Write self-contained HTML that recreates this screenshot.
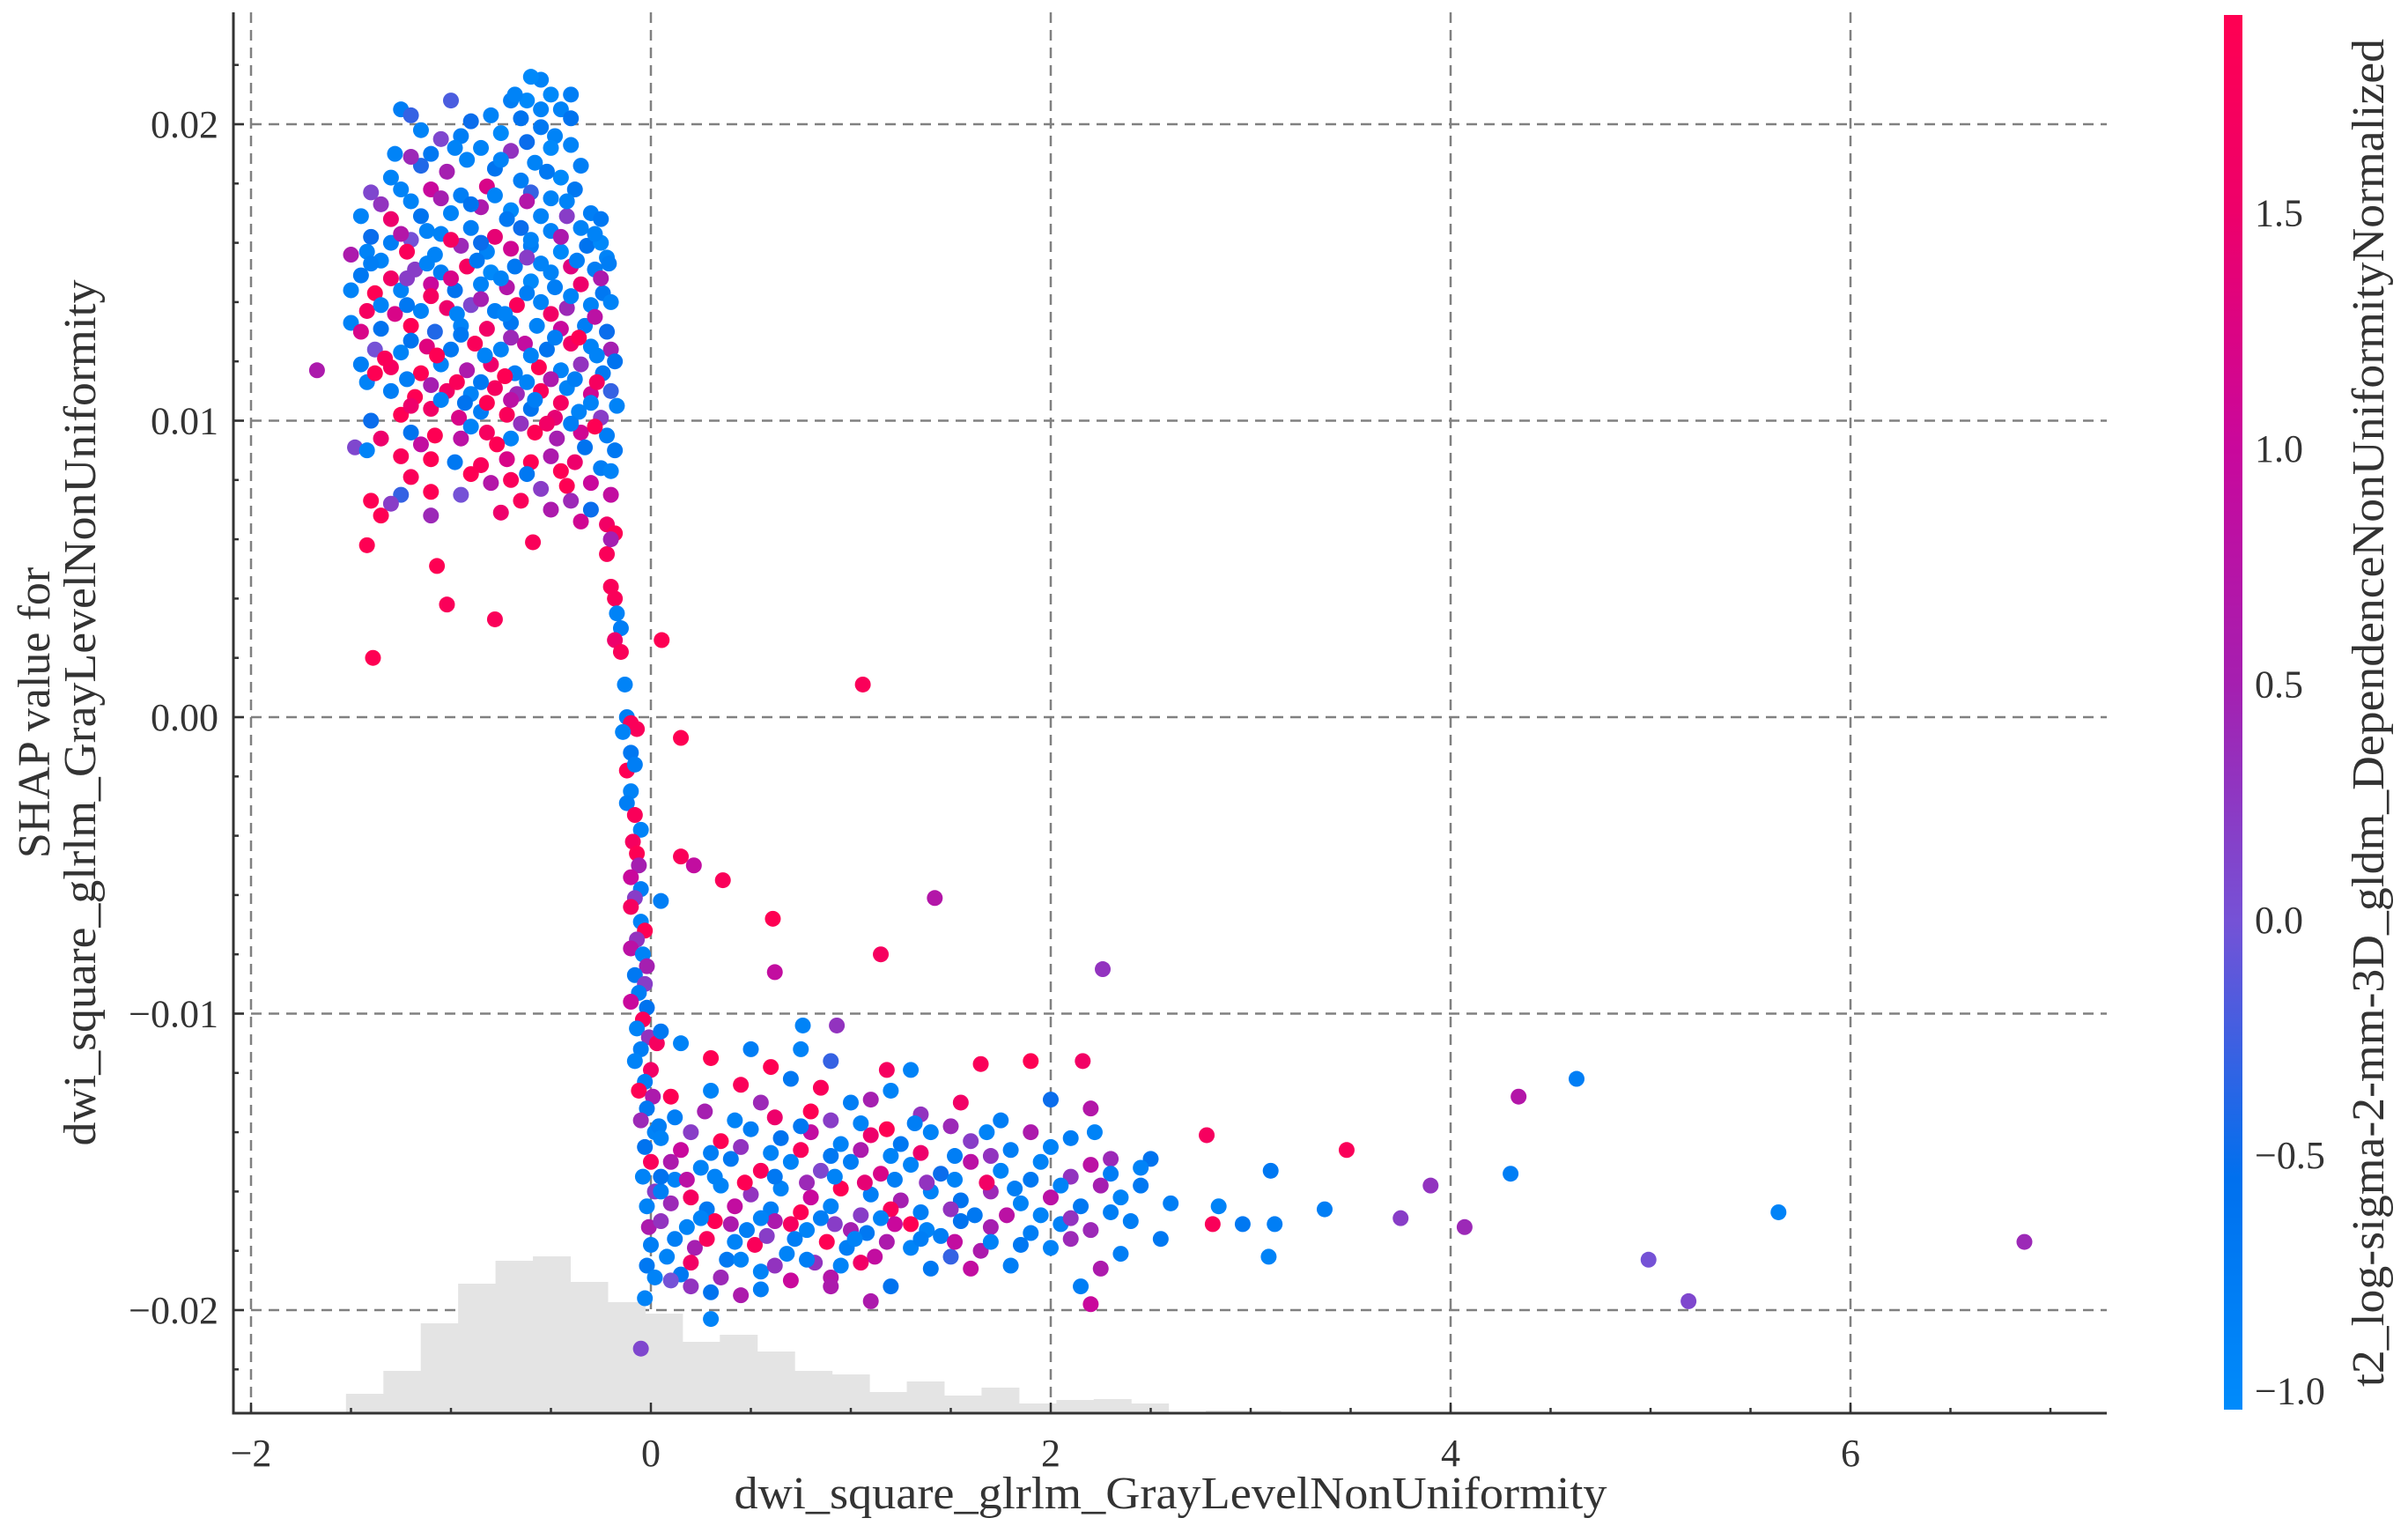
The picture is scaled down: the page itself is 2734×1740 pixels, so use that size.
<!DOCTYPE html>
<html><head><meta charset="utf-8"><style>
html,body{margin:0;padding:0;background:#fff;}
svg{display:block;}
text{font-family:"Liberation Serif",serif;fill:#333;}
</style></head><body>
<svg id="chart" xmlns="http://www.w3.org/2000/svg" width="2734" height="1740" viewBox="0 0 2734 1740">
<defs>
<linearGradient id="cbgrad" x1="0" y1="1" x2="0" y2="0">
<stop offset="0" stop-color="#008bfb"/>
<stop offset="0.166" stop-color="#0070ee"/>
<stop offset="0.35" stop-color="#7552d6"/>
<stop offset="0.52" stop-color="#a51fb0"/>
<stop offset="0.69" stop-color="#c9089c"/>
<stop offset="0.86" stop-color="#ee006a"/>
<stop offset="1" stop-color="#ff0052"/>
</linearGradient>
</defs>
<g id="grid"></g>
<g id="hist"></g>
<g id="points"></g>
<g id="axes"></g>
<text x="44" y="809" font-size="52" text-anchor="middle" transform="rotate(-90 44 809)" dominant-baseline="middle">SHAP value for</text>
<text x="96" y="809" font-size="52" text-anchor="middle" transform="rotate(-90 96 809)" dominant-baseline="middle" textLength="983" lengthAdjust="spacingAndGlyphs">dwi_square_glrlm_GrayLevelNonUniformity</text>
<text x="1329" y="1712" font-size="52" text-anchor="middle" textLength="991" lengthAdjust="spacingAndGlyphs">dwi_square_glrlm_GrayLevelNonUniformity</text>
<rect x="2525" y="17" width="21" height="1583" fill="url(#cbgrad)"/>
<g id="cbticks"></g>
<text x="2694" y="809" font-size="52" text-anchor="middle" transform="rotate(-90 2694 809)" dominant-baseline="middle" textLength="1530" lengthAdjust="spacingAndGlyphs">t2_log-sigma-2-mm-3D_gldm_DependenceNonUniformityNormalized</text>
</svg>
<script>
const xTicks=[-2,0,2,4,6];
const xTickLabels=["−2","0","2","4","6"];
const yTicks=[0.02,0.01,0,-0.01,-0.02];
const yTickLabels=["0.02","0.01","0.00","−0.01","−0.02"];
const cbTicks=[1.5,1.0,0.5,0.0,-0.5,-1.0];
const cbTickLabels=["1.5","1.0","0.5","0.0","−0.5","−1.0"];
const histStart=-1.525, histWidth=0.187;
const histCounts=[22,48,102,147,173,178,149,126,113,81,89,70,48,44,24,36,20,29,11,15,16,11,1,3,3,0,1,0,1,0,0,1];
// points: x, shap*1000, color value
const pointX=[];const pointY=[];const pointC=[];
const pointStr="-0.55,21.5,-0.9;-0.6,21.6,-1;-0.7,20.8,-0.8;-0.5,21,-1;-0.45,20.5,-0.9;-0.65,20.2,-0.6;-0.8,20.3,-0.9;-1,20.8,-0.2;-1.25,20.5,-0.8;-1.2,20.3,-0.3;-1.15,19.8,-0.9;-0.9,20.1,-0.5;-0.95,19.6,-0.8;-0.75,19.7,-1;-0.55,19.9,-0.7;-0.4,20.2,-0.6;-0.48,19.6,-0.9;-0.62,19.4,-0.5;-0.85,19.2,-0.9;-1.05,19.5,0.1;-1.1,19,-0.7;-0.7,19.1,0.3;-0.5,19.2,-1;-0.4,19.3,-0.9;-0.35,18.6,-0.8;-0.58,18.7,-0.9;-0.78,18.5,-0.6;-0.92,18.8,-0.9;-1.02,18.4,0.5;-1.15,18.6,-0.4;-1.3,18.2,-0.9;-0.45,18.2,-1;-0.65,18.1,-0.8;-0.82,17.9,1.2;-0.6,17.7,-0.3;-0.5,17.5,-0.9;-0.38,17.8,-0.7;-0.95,17.6,-0.8;-1.1,17.8,1.0;-1.2,17.4,-0.9;-1.35,17.3,0.3;-1.45,16.9,-0.9;-1.3,16.8,1.5;-1.15,16.9,-0.6;-1.0,17,-0.9;-0.85,17.2,0.6;-0.7,17.1,-1;-0.55,16.9,-0.9;-0.42,16.9,0.2;-0.3,17.0,-0.8;-0.25,16.8,-0.7;-0.35,16.5,-0.9;-0.5,16.4,-0.9;-0.65,16.5,-0.5;-0.78,16.2,1.4;-0.9,16.5,-0.8;-1.05,16.3,-0.9;-1.2,16.1,0.0;-1.3,16.0,-0.8;-1.4,16.2,-0.5;-1.5,15.6,0.6;-1.35,15.4,-0.9;-1.22,15.7,1.8;-1.08,15.6,-0.9;-0.95,15.9,0.4;-0.82,15.7,-0.9;-0.7,15.8,1.1;-0.6,15.9,-0.8;-0.45,15.7,-1;-0.32,15.9,-0.6;-0.22,15.5,-0.9;-0.28,15.1,-0.8;-0.4,15.2,1.3;-0.55,15.3,-0.9;-0.68,15.2,-0.7;-0.8,15.0,-1;-0.92,15.2,1.7;-1.05,15.0,-0.8;-1.18,15.1,0.2;-1.3,14.8,1.6;-1.45,14.9,-0.7;-1.38,14.3,1.9;-1.25,14.4,-0.9;-1.1,14.6,1.0;-0.98,14.4,-0.6;-0.85,14.6,-0.9;-0.72,14.5,0.7;-0.6,14.7,-1;-0.48,14.5,-0.8;-0.35,14.6,1.5;-0.24,14.3,-0.7;-0.3,13.9,-0.9;-0.42,13.8,0.4;-0.55,14.0,-0.9;-0.67,13.9,1.8;-0.78,13.7,-0.8;-0.9,13.9,0.1;-1.02,13.8,1.5;-1.15,13.7,-0.9;-1.28,13.6,1.2;-1.42,13.7,1.7;-1.5,13.3,-0.9;-1.35,13.1,-0.6;-1.2,13.2,1.9;-1.08,13.0,-0.4;-0.95,13.2,-0.9;-0.82,13.1,1.6;-0.7,13.3,-0.7;-0.57,13.2,-0.9;-0.45,13.1,1.0;-0.33,13.2,-0.8;-0.22,13.0,-0.5;-0.2,12.4,0.5;-0.3,12.5,-0.9;-0.4,12.6,1.6;-0.52,12.4,-0.6;-0.63,12.6,0.9;-0.75,12.4,-0.9;-0.88,12.6,1.8;-1.0,12.4,-0.7;-1.12,12.5,1.3;-1.25,12.3,-0.9;-1.38,12.4,0.0;-1.45,11.9,-0.8;-1.3,11.8,1.7;-1.15,11.6,1.9;-1.05,11.9,-0.9;-0.92,11.7,0.6;-0.8,11.9,1.5;-0.68,11.6,-0.8;-0.56,11.8,1.9;-0.45,11.7,-0.9;-0.35,11.9,0.3;-0.24,11.6,-0.7;-0.2,11.0,-0.3;-0.3,10.9,1.1;-0.42,11.1,-0.9;-0.55,11.0,1.8;-0.67,10.9,0.4;-0.78,11.1,1.7;-0.9,10.9,-0.9;-1.02,11.0,1.6;-1.18,10.8,1.9;-1.3,11.0,-0.8;-1.42,11.3,-0.9;-1.4,10.0,-0.5;-1.25,10.2,1.9;-1.1,10.4,1.6;-0.96,10.1,1.2;-0.85,10.3,-0.8;-0.72,10.2,1.8;-0.6,10.4,-0.6;-0.48,10.1,1.4;-0.36,10.3,-0.9;-0.25,10.1,0.2;-0.22,9.5,-0.8;-0.35,9.6,1.1;-0.47,9.4,0.5;-0.58,9.6,1.9;-0.7,9.4,-0.9;-0.82,9.6,1.7;-0.95,9.4,0.8;-1.08,9.5,1.9;-1.2,9.6,-0.6;-1.35,9.4,1.5;-1.48,9.1,0.1;-1.42,9.0,-0.9;-1.25,8.8,1.8;-1.1,8.7,1.9;-0.98,8.6,-0.7;-0.85,8.5,1.8;-0.72,8.7,1.2;-0.6,8.6,1.9;-0.5,8.8,0.6;-0.38,8.6,1.5;-0.25,8.4,-0.8;-0.2,8.3,-0.9;-0.3,7.9,1.0;-0.42,7.8,1.9;-0.55,7.7,0.2;-0.7,8.0,1.8;-0.8,7.9,0.7;-0.95,7.5,0.0;-1.1,7.6,1.9;-1.25,7.5,-0.3;-1.4,7.3,1.9;-1.3,7.2,0.2;-1.35,6.8,1.9;-1.1,6.8,0.4;-0.75,6.9,1.5;-0.5,7.0,0.6;-0.35,6.6,1.1;-0.22,6.5,1.6;-0.3,7.0,-0.5;-0.2,7.5,0.9;-0.18,9.0,-0.7;-0.17,10.5,-0.9;-0.18,12.0,-0.6;-0.2,14.0,-0.9;-0.21,15.3,-0.8;-0.25,16.0,-1;-0.55,20.5,-0.9;-0.62,20.8,-1;-0.68,21.0,-0.9;-0.4,21.0,-0.8;"+
"-1.28,19.0,-0.9;-1.2,18.9,0.4;-0.98,19.2,-0.9;-0.75,18.8,-0.9;-0.52,18.4,-0.7;-0.42,17.4,-0.9;-0.62,17.4,0.7;-0.78,17.6,-0.9;-0.9,17.3,-0.6;-1.05,17.5,0.5;-1.25,17.8,-0.9;-1.4,17.7,0.1;-0.28,16.3,-0.9;-0.45,16.2,0.6;-0.6,16.1,-0.9;-0.72,16.8,-0.7;-0.85,16.0,-0.5;-1.0,16.1,1.7;-1.12,16.4,-0.9;-1.25,16.3,0.7;-1.42,15.7,-0.9;-0.25,14.8,0.6;-0.37,15.4,-0.8;-0.5,15.0,-0.9;-0.62,15.5,0.2;-0.75,14.8,-0.9;-0.87,15.4,-0.7;-1.0,14.8,1.2;-1.12,15.3,-0.9;-1.22,14.8,0.2;-1.4,15.3,-0.8;-1.5,14.4,-0.9;-0.28,13.5,0.8;-0.4,14.2,-0.9;-0.5,13.6,1.6;-0.62,14.3,-0.8;-0.73,13.6,-0.9;-0.85,14.1,0.5;-0.97,13.6,-0.9;-1.1,14.2,1.7;-1.22,13.9,-0.7;-1.35,13.9,-0.9;-1.45,13.0,1.2;-0.27,12.2,-0.9;-0.36,12.8,1.9;-0.48,12.8,-0.8;-0.6,12.2,-0.9;-0.7,12.8,0.4;-0.83,12.2,-0.9;-0.95,12.9,-0.7;-1.07,12.2,1.9;-1.2,12.7,-0.6;-1.33,12.1,1.8;-0.27,11.3,1.7;-0.38,11.4,-0.8;-0.5,11.4,0.6;-0.62,11.3,-0.9;-0.73,11.5,1.9;-0.85,11.3,-0.7;-0.97,11.3,1.8;-1.1,11.2,0.5;-1.22,11.4,-0.8;-1.38,11.6,1.9;-0.3,10.6,-0.9;-0.45,10.6,1.7;-0.58,10.7,-0.8;-0.7,10.7,0.8;-0.82,10.6,1.9;-0.93,10.6,-0.6;-1.05,10.7,-0.9;-1.2,10.5,1.5;-0.28,9.8,1.9;-0.4,9.9,-0.8;-0.52,9.9,1.6;-0.65,9.9,0.3;-0.77,9.2,1.9;-0.9,9.8,-0.9;-1.15,9.2,0.9;-0.33,9.1,-0.6;-0.45,8.3,1.9;-0.62,8.2,-0.7;-0.9,8.2,1.9;-1.2,8.1,1.8;-0.65,7.3,1.8;-0.4,7.3,0.4;"+
"-1.67,11.7,0.6;-1.39,2.0,1.9;-1.42,5.8,1.9;-1.07,5.1,1.9;-1.02,3.8,1.8;-0.78,3.3,1.8;-0.59,5.9,1.8;0.054,2.6,1.9;1.06,1.1,1.8;0.15,-0.7,1.9;-0.07,-0.4,1.8;0.15,-4.7,1.8;0.215,-5.0,0.9;0.36,-5.5,1.8;0.61,-6.8,1.9;1.42,-6.1,0.7;0.62,-8.6,0.9;1.15,-8.0,1.7;2.26,-8.5,0.3;4.63,-12.2,-0.8;4.34,-12.8,0.7;6.87,-17.7,0.4;5.64,-16.7,-0.9;4.99,-18.3,0.0;5.19,-19.7,0.1;4.3,-15.4,-0.8;4.07,-17.2,0.4;3.9,-15.8,0.3;3.75,-16.9,0.2;3.48,-14.6,1.8;3.37,-16.6,-0.8;3.12,-17.1,-0.8;3.1,-15.3,-0.7;3.09,-18.2,-0.9;2.96,-17.1,-0.7;2.84,-16.5,-0.9;2.81,-17.1,1.8;2.78,-14.1,1.7;-0.05,-21.3,0.1;0.3,-20.3,-0.9;1.9,-11.6,1.9;2.16,-11.6,1.6;2.22,-14.0,-0.9;1.65,-11.7,1.8;1.18,-11.9,1.7;0.93,-10.4,0.3;0.76,-10.4,-0.9;"+
"-0.22,5.5,1.8;-0.18,6.2,1.9;-0.2,6.0,0.5;-0.2,4.4,1.8;-0.18,4.0,1.8;-0.17,3.5,-0.9;-0.15,3.0,-0.8;-0.18,2.6,1.5;-0.15,2.2,1.8;-0.13,1.1,-0.9;-0.12,0.0,-0.8;-0.1,-0.2,1.8;-0.14,-0.5,-0.9;-0.1,-1.2,-0.7;-0.12,-1.8,1.9;-0.08,-1.6,-0.8;-0.1,-2.5,-0.9;-0.12,-2.9,-0.8;-0.08,-3.3,1.8;-0.05,-3.8,-0.9;-0.09,-4.2,1.7;-0.07,-4.6,1.9;-0.06,-5.0,0.5;-0.1,-5.4,1.0;-0.05,-5.8,-0.8;-0.08,-6.1,0.2;-0.1,-6.4,1.7;-0.05,-6.9,-0.9;-0.03,-7.2,1.9;-0.07,-7.5,0.3;-0.1,-7.8,0.8;-0.04,-8.0,-0.9;-0.02,-8.4,0.5;-0.08,-8.7,-0.7;-0.03,-9.0,0.2;-0.06,-9.3,-0.8;-0.1,-9.6,1.0;-0.02,-9.8,-0.6;-0.04,-10.2,1.8;-0.07,-10.5,-0.9;-0.01,-10.8,0.3;-0.05,-11.2,-0.8;-0.08,-11.6,-0.9;0.0,-11.9,1.6;-0.03,-12.3,-0.8;-0.06,-12.6,1.9;0.01,-12.8,0.6;-0.02,-13.2,-0.7;-0.05,-13.6,0.4;0.02,-14.0,-0.9;-0.03,-14.5,-0.6;0.0,-15.0,1.8;-0.04,-15.5,-0.9;0.02,-16.0,0.2;-0.02,-16.5,-0.9;-0.01,-17.2,0.6;0.0,-17.8,-0.8;-0.02,-18.5,-0.7;-0.03,-19.6,-0.9;0.05,-6.2,-0.8;0.03,-11.0,1.7;0.04,-13.8,-0.8;"+
"0.1,-12.8,1.9;0.3,-12.6,-0.9;0.45,-12.4,1.8;0.55,-13.0,0.4;0.7,-12.2,-0.7;0.85,-12.5,1.8;1.0,-13.0,-0.8;1.2,-12.6,-0.9;1.35,-13.4,0.3;1.55,-13.0,1.6;1.75,-13.6,-0.8;2.0,-12.9,-0.5;2.2,-13.2,0.7;0.15,-11.0,-0.9;0.5,-11.2,-0.8;0.6,-11.8,1.9;0.05,-10.6,-0.7;0.3,-11.5,1.9;0.75,-11.2,-0.9;0.9,-11.6,-0.3;1.3,-11.9,-0.9;1.1,-12.9,0.5;0.8,-13.3,1.9;"+
"0.05,-14.2,-0.9;0.2,-14.0,0.2;0.35,-14.3,1.9;0.5,-13.9,-0.8;0.65,-14.2,-0.6;0.8,-14.0,0.9;0.95,-14.4,-0.9;1.1,-14.1,1.5;1.25,-14.4,-0.7;1.4,-14.0,-0.9;1.6,-14.3,0.2;1.8,-14.6,-0.8;2.0,-14.5,-0.9;2.3,-14.9,0.4;2.5,-14.9,-0.6;2.45,-15.2,-0.9;"+
"0.1,-15.0,0.6;0.25,-15.2,-0.9;0.4,-14.9,-0.7;0.55,-15.3,1.8;0.7,-15.0,-0.9;0.85,-15.3,0.1;1.0,-15.0,-0.8;1.15,-15.4,1.2;1.3,-15.1,-0.9;1.45,-15.4,-0.5;1.6,-15.0,0.8;1.75,-15.3,-0.9;1.9,-15.6,-0.7;2.1,-15.5,0.3;2.3,-15.4,-0.8;"+
"0.05,-16.0,-0.8;0.2,-16.2,1.7;0.35,-15.8,-0.9;0.5,-16.1,0.3;0.65,-15.9,-0.9;0.8,-16.2,1.0;0.95,-15.9,1.9;1.1,-16.1,-0.8;1.25,-16.3,0.5;1.4,-16.0,-0.9;1.55,-16.3,-0.6;1.7,-16.0,0.4;1.85,-16.4,-0.9;2.0,-16.2,0.8;2.15,-16.5,-0.7;2.35,-16.2,-0.9;2.6,-16.4,-0.8;0.12,-15.6,-0.9;0.28,-16.6,-0.7;0.42,-16.5,0.9;0.6,-16.6,-0.8;0.75,-16.7,1.9;0.9,-16.5,-0.9;1.05,-16.8,0.2;1.2,-16.6,1.8;1.35,-16.7,-0.8;1.5,-16.6,0.3;"+
"0.05,-17.0,0.3;0.18,-17.2,-0.9;0.32,-17.0,1.9;0.48,-17.3,-0.8;0.62,-17.0,0.6;0.78,-17.3,-0.9;0.92,-17.1,0.2;1.08,-17.4,-0.7;1.22,-17.1,1.0;1.38,-17.3,-0.9;1.55,-17.0,-0.6;1.7,-17.2,0.5;1.9,-17.4,-0.8;2.05,-17.1,-0.9;2.2,-17.3,0.4;2.4,-17.0,-0.8;2.55,-17.6,-0.7;"+
"0.08,-18.2,-0.9;0.22,-17.9,0.5;0.38,-18.3,-0.7;0.52,-17.8,1.8;0.68,-18.1,-0.9;0.82,-18.4,0.3;0.98,-17.9,-0.8;1.12,-18.2,0.9;1.3,-17.9,-0.9;1.5,-18.2,-0.3;1.65,-18.0,0.6;1.8,-18.5,-0.8;2.0,-17.9,-0.9;2.25,-18.6,0.6;2.35,-18.1,-0.8;0.15,-18.8,-0.7;0.35,-18.9,0.4;0.55,-18.7,-0.9;0.7,-19.0,1.0;0.9,-18.9,0.7;1.2,-19.2,-0.6;2.15,-19.2,-0.8;0.3,-19.4,-0.6;0.9,-19.2,0.6;0.1,-19.0,0.0;0.45,-19.5,0.6;1.1,-19.7,0.6;2.2,-19.8,1.0;"+
"0.12,-13.5,-0.8;0.27,-13.3,0.5;0.42,-13.6,-0.9;0.62,-13.5,1.5;0.75,-13.8,-0.7;0.9,-13.6,0.2;1.05,-13.7,-0.9;1.18,-13.9,1.9;1.32,-13.7,-0.8;1.5,-13.8,0.4;1.68,-14.0,-0.9;1.9,-14.0,0.6;2.1,-14.2,-0.8;0.15,-14.6,1.0;0.3,-14.7,-0.8;0.45,-14.5,0.3;0.6,-14.7,-0.9;0.75,-14.6,1.8;0.9,-14.8,-0.7;1.05,-14.6,0.6;1.2,-14.8,-0.9;1.35,-14.7,1.5;1.52,-14.8,-0.8;1.7,-14.8,0.3;1.95,-15.0,-0.9;2.2,-15.1,0.8;0.05,-15.5,-0.6;0.18,-15.6,0.8;0.32,-15.5,-0.9;0.47,-15.7,1.9;0.62,-15.5,-0.7;0.78,-15.7,0.4;0.92,-15.5,-0.9;1.07,-15.7,1.4;1.22,-15.6,-0.8;1.38,-15.7,0.3;1.52,-15.6,-0.9;1.68,-15.7,1.6;1.82,-15.9,-0.8;2.05,-15.8,-0.9;2.25,-15.8,0.5;2.45,-15.8,-0.7;0.1,-16.4,0.4;0.25,-16.9,-0.9;0.4,-17.1,0.6;0.55,-16.9,-0.9;0.7,-17.1,1.7;0.85,-16.9,-0.8;1.0,-17.3,0.5;1.15,-16.9,-0.9;1.3,-17.1,1.9;1.45,-17.5,-0.8;1.62,-16.8,-0.7;1.78,-16.8,0.8;1.95,-16.8,-0.9;2.1,-16.9,0.3;2.3,-16.7,-0.8;0.12,-17.6,-0.8;0.28,-17.6,1.8;0.42,-17.7,-0.9;0.58,-17.5,0.2;0.72,-17.6,-0.8;0.88,-17.7,1.9;1.02,-17.6,-0.9;1.18,-17.7,0.6;1.35,-17.6,-0.8;1.52,-17.7,0.9;1.7,-17.7,-0.9;1.85,-17.8,-0.7;2.1,-17.6,0.4;0.2,-18.4,1.6;0.45,-18.3,-0.9;0.62,-18.5,0.3;0.78,-18.3,-0.8;0.95,-18.5,-0.9;1.05,-18.4,1.6;1.4,-18.6,-0.7;1.6,-18.6,0.9;0.2,-19.2,0.3;0.55,-19.3,-0.8;0.02,-18.9,-0.9";
pointStr.split(";").forEach(s=>{const p=s.split(",").map(Number);if(p.length===3){pointX.push(p[0]);pointY.push(p[1]/1000);pointC.push(p[2]);}});

const NS="http://www.w3.org/2000/svg";
const L=265,R=2392,T=14,B=1604;
const sx=v=>739+v*227.0;
const sy=v=>814-v*33650;
const cbMin=-1.04,cbMax=1.92,cbTop=17,cbBot=1600;
const scb=v=>cbBot-(v-cbMin)/(cbMax-cbMin)*(cbBot-cbTop);
const stops=[[0,[0,139,251]],[0.166,[0,112,238]],[0.35,[117,82,214]],[0.52,[165,31,176]],[0.69,[201,8,156]],[0.86,[238,0,106]],[1,[255,0,82]]];
function cmap(v){let t=Math.max(0,Math.min(1,(v-cbMin)/(cbMax-cbMin)));for(let i=1;i<stops.length;i++){if(t<=stops[i][0]){const a=stops[i-1],b=stops[i];const f=(t-a[0])/(b[0]-a[0]);return "rgb("+a[1].map((c,k)=>Math.round(c+(b[1][k]-c)*f)).join(",")+")";}}return "rgb(255,0,82)";}
function mk(tag,attrs,parent){const e=document.createElementNS(NS,tag);for(const k in attrs)e.setAttribute(k,attrs[k]);parent.appendChild(e);return e;}
const grid=document.getElementById('grid'),hist=document.getElementById('hist'),pts=document.getElementById('points'),axes=document.getElementById('axes'),cbt=document.getElementById('cbticks');
xTicks.forEach(v=>{const e=mk('line',{x1:sx(v),x2:sx(v),y1:T,y2:B,stroke:'#808080','stroke-width':2.5,'stroke-dasharray':'12,8'},grid);

});
yTicks.forEach(v=>{const e=mk('line',{x1:L,x2:R,y1:sy(v),y2:sy(v),stroke:'#808080','stroke-width':2.5,'stroke-dasharray':'12,8'},grid);

});
histCounts.forEach((c,i)=>{if(!c)return;const x0=sx(histStart+i*histWidth),x1=sx(histStart+(i+1)*histWidth);const e=mk('rect',{x:x0,y:B-c,width:x1-x0+0.5,height:c,fill:'#e4e4e4'},hist);

});
for(let i=0;i<pointX.length;i++){const e=mk('circle',{cx:sx(pointX[i]),cy:sy(pointY[i]),r:9,fill:cmap(pointC[i])},pts);

}
let e=mk('line',{x1:L,x2:L,y1:T,y2:B+1.5,stroke:'#333','stroke-width':3},axes);


e=mk('line',{x1:L-1.5,x2:R,y1:B,y2:B,stroke:'#333','stroke-width':3},axes);


for(let v=-2;v<=7.01;v+=0.5){const major=Math.abs(v-Math.round(v/2)*2)<1e-6;const t=mk('line',{x1:sx(v),x2:sx(v),y1:B,y2:B-(major?12:6),stroke:'#333','stroke-width':2.5},axes);

}
for(let k=-11;k<=11;k++){const v=k*0.002;const major=k%5===0;const t=mk('line',{x1:L,x2:L+(major?12:6),y1:sy(v),y2:sy(v),stroke:'#333','stroke-width':2.5},axes);

}
xTicks.forEach((v,i)=>{const t=mk('text',{x:sx(v),y:1664,'font-size':44,'text-anchor':'middle'},axes);t.textContent=xTickLabels[i];

});
yTicks.forEach((v,i)=>{const t=mk('text',{x:248,y:sy(v)+15,'font-size':44,'text-anchor':'end'},axes);t.textContent=yTickLabels[i];

});
cbTicks.forEach((v,i)=>{const t=mk('text',{x:2560,y:scb(v)+15,'font-size':44,'text-anchor':'start'},cbt);t.textContent=cbTickLabels[i];

});
</script>
</body></html>
